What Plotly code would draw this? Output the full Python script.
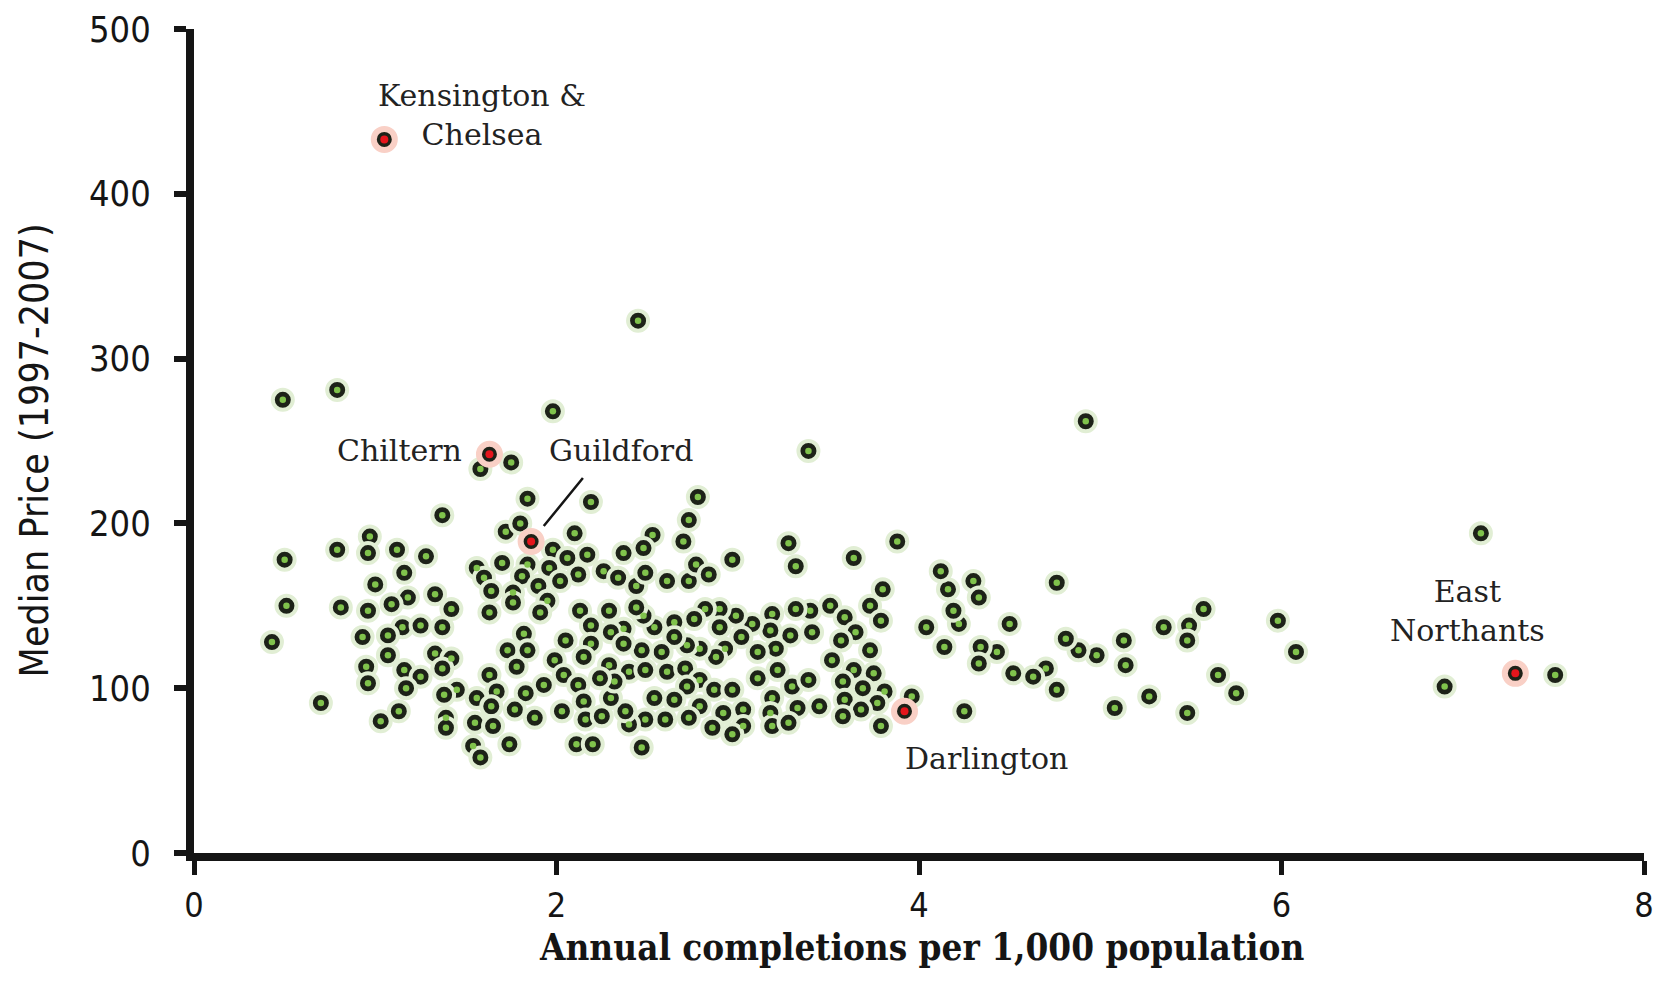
import plotly.graph_objects as go

# ---------------- data ----------------
green_x = [
    1.84, 2.19, 1.37, 1.72, 1.80, 2.10, 0.97, 0.79, 0.96, 1.12, 1.28, 0.50, 1.70, 1.84, 1.98, 2.06, 2.17,
    1.56, 1.60, 1.16, 1.96, 1.81, 2.12, 1.00, 1.90, 2.02, 1.64, 1.76, 1.76, 1.95, 1.33, 1.18, 1.09, 1.42,
    0.96, 0.81, 0.51, 1.63, 1.91, 2.13, 1.15, 1.25, 1.37, 2.19, 0.93, 1.07, 1.82, 2.05, 2.19, 0.43, 1.73,
    1.84, 1.07, 1.33, 1.42, 1.99, 2.15, 1.78, 0.95, 1.16, 1.37, 1.25, 0.96, 1.17, 1.63, 2.04, 2.12, 1.93,
    1.45, 1.38, 1.67, 1.83, 1.56, 2.15, 0.70, 1.64, 1.13, 1.03, 1.39, 1.39, 1.55, 1.65, 1.77, 1.88, 2.03,
    2.16, 1.54, 1.58, 1.74, 2.11, 2.20,
    2.78, 2.73, 2.53, 2.70, 2.48, 2.37, 2.97, 3.28, 3.32, 3.64, 3.88, 2.26, 2.34, 2.44, 2.49, 2.61, 2.73,
    2.77, 2.84, 3.80, 3.73, 3.79, 4.04, 3.51, 3.59, 3.40, 3.32, 3.19, 3.18, 3.08, 2.99, 2.90, 2.82, 2.90,
    2.76, 2.65, 2.54, 2.48, 2.44, 2.37, 2.29, 2.30, 3.41, 3.29, 3.65, 3.57, 3.73, 3.52, 3.21, 3.11, 3.02,
    2.93, 2.88, 2.79, 2.72, 2.65, 2.58, 2.47, 2.37, 2.29, 2.40, 2.49, 2.61, 2.71, 2.79, 2.72, 2.87, 2.97,
    3.11, 3.22, 3.30, 3.39, 3.64, 3.75, 3.58, 3.69, 3.81, 3.96, 3.59, 3.77, 3.68, 3.58, 3.79, 3.45, 3.33,
    3.19, 3.18, 3.19, 3.28, 3.03, 3.03, 2.92, 2.97, 2.86, 2.79, 2.73, 2.65, 2.54, 2.60, 2.49, 2.40, 2.38,
    2.25, 2.30, 2.32, 2.24, 2.47,
    0.49, 0.79, 2.45, 1.98, 3.39, 4.92, 7.10, 6.90, 7.51, 5.98, 6.08, 5.75, 5.65, 5.57, 5.49, 5.48, 5.48,
    5.35, 5.27, 5.13, 5.14, 5.08, 4.98, 4.88, 4.81, 4.76, 4.76, 4.70, 4.63, 4.50, 4.52, 4.43, 4.34, 4.33,
    4.25, 4.30, 4.33, 4.22, 4.19, 4.16, 4.12, 4.14, 1.58, 1.75,
]
green_y = [
    215, 213, 205, 195, 200, 194, 192, 184, 182, 184, 180, 178, 176, 175, 184, 179, 181,
    173, 167, 170, 173, 168, 169, 163, 162, 165, 159, 158, 152, 153, 157, 155, 151, 148,
    147, 149, 150, 146, 146, 147, 137, 138, 137, 138, 131, 132, 133, 129, 127, 128, 123,
    123, 120, 121, 118, 117, 119, 113, 113, 111, 112, 107, 103, 100, 108, 108, 102, 102,
    99, 96, 98, 97, 94, 92, 91, 89, 86, 80, 82, 76, 79, 77, 87, 82, 86,
    81, 65, 58, 66, 66, 66,
    216, 202, 193, 189, 185, 182, 178, 188, 174, 179, 189, 171, 167, 162, 170, 165, 165,
    175, 169, 160, 150, 141, 137, 150, 143, 147, 148, 145, 135, 139, 144, 148, 148, 137,
    142, 140, 137, 144, 149, 136, 147, 134, 134, 132, 134, 129, 123, 117, 124, 122, 131,
    124, 119, 124, 126, 131, 122, 123, 127, 114, 110, 111, 110, 112, 105, 101, 99, 99,
    106, 111, 101, 105, 111, 109, 104, 100, 98, 95, 93, 91, 87, 83, 77, 89, 88,
    94, 85, 77, 79, 87, 77, 85, 72, 76, 89, 82, 93, 94, 81, 81, 78, 86,
    83, 94, 104, 106, 64,
    275, 281, 323, 268, 244, 262, 194, 101, 108, 141, 122, 97, 108, 148, 138, 129, 85,
    137, 95, 129, 114, 88, 120, 123, 130, 164, 99, 112, 107, 139, 109, 122, 125, 115,
    86, 165, 155, 139, 147, 160, 171, 125, 233, 237,
]

hl_names = ["Kensington &<br>Chelsea", "Chiltern", "Guildford", "Darlington", "East<br>Northants"]
hl_x = [1.05, 1.63, 1.86, 3.92, 7.29]
hl_y = [433, 242, 189, 86, 109]

x_ticks = [0, 2, 4, 6, 8]
y_ticks = [0, 100, 200, 300, 400, 500]
x_title = "Annual completions per 1,000 population"
y_title = "Median Price (1997-2007)"

# ---------------- styling ----------------
INK = "#151515"
RING = "#1d2218"
GREEN = "#80c34c"
HALO = "#e1eed4"
RED = "#e5151c"
PINK = "#f9d0c6"
SERIF = "DejaVu Serif, Liberation Serif, serif"
SERIF_C = "DejaVu Serif Condensed, DejaVu Serif, serif"
SANS_C = "DejaVu Sans Condensed, DejaVu Sans, sans-serif"

# label offsets (pixels) relative to each highlighted point
label_shift = [(98, 24), (-90, 4), (90, 91), (82, -47), (-48, 62)]

fig = go.Figure()
fig.add_trace(go.Scatter(
    x=green_x, y=green_y, mode="markers", hoverinfo="skip",
    marker=dict(size=20, color=RING, line=dict(color=HALO, width=4)),
))
fig.add_trace(go.Scatter(
    x=green_x, y=green_y, mode="markers", hoverinfo="skip",
    marker=dict(size=6.5, color=GREEN, line=dict(width=0)),
))
fig.add_trace(go.Scatter(
    x=hl_x, y=hl_y, mode="markers", hoverinfo="skip",
    marker=dict(size=21, color=RING, line=dict(color=PINK, width=6)),
))
fig.add_trace(go.Scatter(
    x=hl_x, y=hl_y, mode="markers", hoverinfo="skip",
    marker=dict(size=8, color=RED, line=dict(width=0)),
))

for name, x, y, (dx, dy) in zip(hl_names, hl_x, hl_y, label_shift):
    fig.add_annotation(
        x=x, y=y, xref="x", yref="y", text=name, showarrow=False,
        xshift=dx, yshift=dy, xanchor="center", yanchor="middle", align="center",
        font=dict(family=SERIF, size=30, color="#222222"),
    )

# pointer for Guildford
g = hl_names.index("Guildford")
fig.add_annotation(
    x=hl_x[g], y=hl_y[g], xref="x", yref="y", text="", showarrow=True,
    ax=53, ay=-65, arrowhead=0, arrowwidth=2.5, arrowcolor=INK, standoff=20,
)

# axis titles
fig.add_annotation(
    x=0.502, y=-0.1145, xref="paper", yref="paper", text=x_title, showarrow=False,
    xanchor="center", yanchor="middle",
    font=dict(family=SERIF_C, size=36.5, color=INK, weight="bold"),
)
fig.add_annotation(
    x=-0.1103, y=0.4887, xref="paper", yref="paper", text=y_title, showarrow=False,
    xanchor="center", yanchor="middle", textangle=-90,
    font=dict(family=SANS_C, size=39, color=INK),
)

# the page body adds an 8px offset, so margins are shifted to keep the plot area in place
fig.update_layout(
    width=1661, height=996,
    margin=dict(l=186, r=25, t=21, b=151),
    paper_bgcolor="white", plot_bgcolor="white",
    showlegend=False,
    xaxis=dict(
        range=[0, 8], tickvals=x_ticks, ticktext=[str(v) for v in x_ticks],
        showgrid=False, zeroline=False, showline=True, linecolor=INK, linewidth=8,
        ticks="outside", ticklen=14, tickwidth=5, tickcolor=INK,
        tickfont=dict(family=SANS_C, size=34, color=INK),
        ticklabelstandoff=1, automargin=False,
    ),
    yaxis=dict(
        range=[0, 500], tickvals=y_ticks, ticktext=[str(v) for v in y_ticks],
        showgrid=False, zeroline=False, showline=True, linecolor=INK, linewidth=8,
        ticks="outside", ticklen=12, tickwidth=6, tickcolor=INK,
        tickfont=dict(family=SANS_C, size=36, color=INK),
        ticklabelstandoff=16, automargin=False,
    ),
)

fig.write_html("out.html")
